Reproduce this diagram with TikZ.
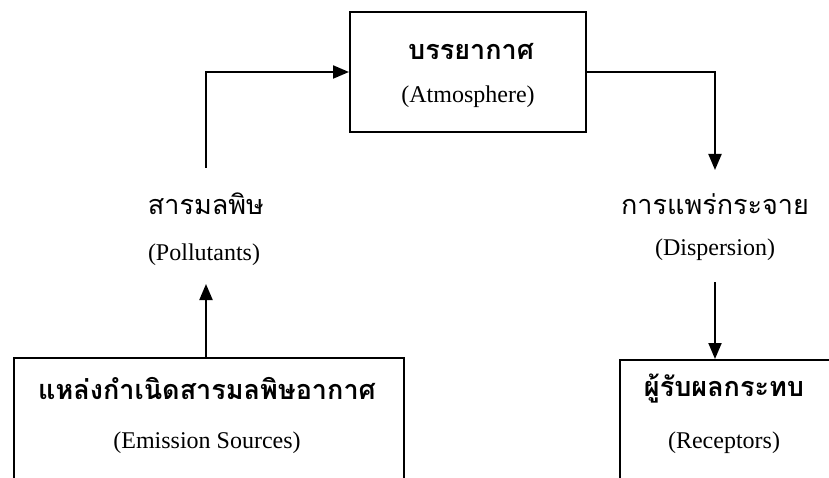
\documentclass[tikz,border=0pt]{standalone}
\usepackage{fontspec}
\setmainfont{Liberation Serif}
\newfontfamily\thai[Script=Thai]{Loma}
\usetikzlibrary{arrows.meta}
\begin{document}
\begin{tikzpicture}[x=1pt,y=-1pt,
  box/.style={draw, line width=2pt, inner sep=0pt},
  conn/.style={line width=2pt},
  arr/.style={conn, -{Triangle[length=16pt,width=13pt]}},
  en/.style={font=\fontsize{24}{28}\selectfont, inner sep=0pt},
  th/.style={font=\thai\fontsize{27}{30}\selectfont, inner sep=0pt},
  thb/.style={font=\thai\bfseries\fontsize{27}{30}\selectfont, inner sep=0pt}]
\clip (0,0) rectangle (829,478);
\fill[white] (0,0) rectangle (829,478);
% boxes
\node[box, minimum width=236pt, minimum height=120pt] (atm) at (468,72) {};
\node[box, minimum width=390pt, minimum height=180pt] (emis) at (209,448) {};
\node[box, minimum width=300pt, minimum height=180pt] (rec) at (770,450) {};
% box texts
\node[thb] (atmth) at (471,52) {บรรยากาศ};
\node[en] (atmen) at (468,97) {(Atmosphere)};
\node[thb] (emisth) at (207,388) {แหล่งกำเนิดสารมลพิษอากาศ};
\node[en] (emisen) at (207,443) {(Emission Sources)};
\node[thb] (recth) at (724,389) {ผู้รับผลกระทบ};
\node[en] (recen) at (724,443) {(Receptors)};
% labels
\node[th] (pollth) at (206,204) {สารมลพิษ};
\node[en] (pollen) at (204,255) {(Pollutants)};
\node[th] (dispth) at (715,204) {การแพร่กระจาย};
\node[en] (dispen) at (715,250) {(Dispersion)};
% connector ends
\coordinate (lp) at (206,168);
\coordinate (pa) at (206,284);
\coordinate (rp) at (715,170);
\coordinate (rq) at (715,282);
% connectors
\draw[arr] (lp) |- (atm.west);
\draw[arr] (emis.north -| pa) -- (pa);
\draw[arr] (atm.east) -| (rp);
\draw[arr] (rq) -- (rec.north -| rq);
\end{tikzpicture}
\end{document}
